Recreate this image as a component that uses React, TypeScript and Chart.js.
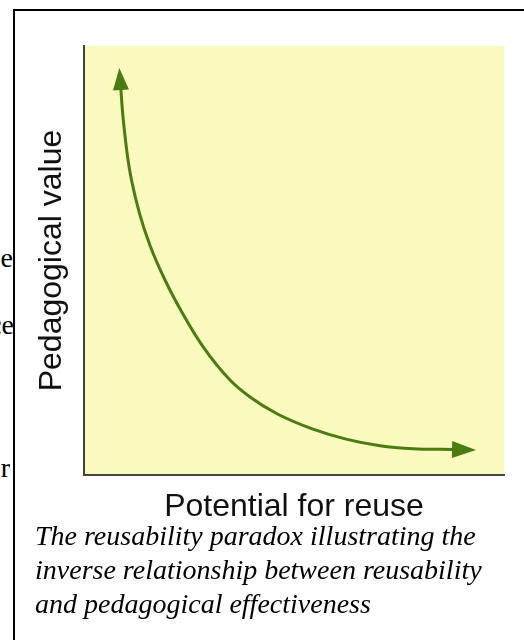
import React, { useEffect, useRef } from "react";
import { Chart, registerables } from "chart.js";

Chart.register(...registerables);

// Curve (x: potential for reuse, y: pedagogical value, both 0..100)
const curveX = [8.76, 9.14, 9.74, 10.48, 11.31, 13.21, 15.83, 19.29, 23.45, 28.33, 34.76, 39.52, 45.95, 54.52, 62.62, 70.48, 78.33, 88.1];
const curveY = [90.21, 85.08, 79.25, 73.43, 68.76, 61.0, 53.22, 45.45, 37.69, 29.91, 22.14, 18.18, 14.27, 10.68, 8.3, 6.83, 6.13, 5.94];

const xTitle = "Potential for reuse";
const yTitle = "Pedagogical value";
const captionLines = [
  "The reusability paradox illustrating the",
  "inverse relationship between reusability",
  "and pedagogical effectiveness",
];

const GREEN = "#4a7c12";
const YELLOW = "#faf9be";
const AXIS = "#444444";
const SANS = '"Liberation Sans", Arial, Helvetica, sans-serif';
const SERIF = '"Liberation Serif", "Times New Roman", Times, serif';

const bgPlugin = {
  id: "plotBg",
  beforeDraw(chart: any) {
    const { ctx, chartArea: a } = chart;
    ctx.save();
    ctx.fillStyle = YELLOW;
    ctx.fillRect(a.left, a.top, a.right - a.left, a.bottom - a.top);
    ctx.restore();
  },
};

function drawHead(ctx: CanvasRenderingContext2D, base: number[], prev: number[], len: number, hw: number) {
  const dx = base[0] - prev[0];
  const dy = base[1] - prev[1];
  const d = Math.hypot(dx, dy) || 1;
  const ux = dx / d;
  const uy = dy / d;
  const bx = base[0] - ux * 2;
  const by = base[1] - uy * 2;
  ctx.beginPath();
  ctx.moveTo(base[0] + ux * len, base[1] + uy * len);
  ctx.lineTo(bx - uy * hw, by + ux * hw);
  ctx.lineTo(bx + uy * hw, by - ux * hw);
  ctx.closePath();
  ctx.fill();
}

const arrowPlugin = {
  id: "arrowHeads",
  afterDatasetsDraw(chart: any) {
    const { ctx } = chart;
    const xs = chart.scales.x;
    const ys = chart.scales.y;
    const p = (i: number) => [xs.getPixelForValue(curveX[i]), ys.getPixelForValue(curveY[i])];
    const n = curveX.length;
    ctx.save();
    ctx.fillStyle = GREEN;
    drawHead(ctx, p(0), p(1), 20, 8);
    drawHead(ctx, p(n - 1), p(n - 2), 22, 8.5);
    ctx.restore();
  },
};

export default function App() {
  const canvasRef = useRef<HTMLCanvasElement | null>(null);

  useEffect(() => {
    const canvas = canvasRef.current;
    if (!canvas) return;
    const points = curveX.map((x, i) => ({ x, y: curveY[i] }));
    const chart = new Chart(canvas, {
      type: "scatter",
      data: {
        datasets: [
          {
            data: points,
            showLine: true,
            borderColor: GREEN,
            backgroundColor: GREEN,
            borderWidth: 3,
            pointRadius: 0,
            cubicInterpolationMode: "monotone",
            fill: false,
          } as any,
        ],
      },
      options: {
        animation: false,
        responsive: false,
        devicePixelRatio: 1,
        events: [],
        layout: { padding: { left: 16, top: 16, right: 6, bottom: 0 } },
        plugins: { legend: { display: false }, tooltip: { enabled: false } },
        scales: {
          x: {
            type: "linear",
            min: 0,
            max: 100,
            ticks: { display: false },
            grid: { display: false, drawTicks: false },
            border: { display: true, color: AXIS, width: 2 },
            title: {
              display: true,
              text: xTitle,
              color: "#111111",
              font: { family: SANS, size: 32, lineHeight: "32px" as any },
              padding: { top: 16, bottom: 0 },
            },
          },
          y: {
            type: "linear",
            min: 0,
            max: 100,
            ticks: { display: false },
            grid: { display: false, drawTicks: false },
            border: { display: true, color: AXIS, width: 2 },
            title: {
              display: true,
              text: yTitle,
              color: "#111111",
              font: { family: SANS, size: 32, lineHeight: "32px" as any },
              padding: { top: 0, bottom: 16 },
            },
          },
        },
      },
      plugins: [bgPlugin, arrowPlugin],
    });
    return () => chart.destroy();
  }, []);

  const fragStyle: React.CSSProperties = {
    position: "absolute",
    left: -60,
    width: 73,
    textAlign: "right",
    overflow: "hidden",
    whiteSpace: "nowrap",
    fontFamily: SERIF,
    fontSize: 28,
    lineHeight: "34px",
    color: "#000",
  };

  return (
    <div
      style={{
        position: "absolute",
        left: 0,
        top: 0,
        width: 524,
        height: 640,
        overflow: "hidden",
        background: "#fff",
      }}
    >
      <div style={{ ...fragStyle, top: 241 }}>e</div>
      <div style={{ ...fragStyle, top: 308, width: 74 }}>ce</div>
      <div style={{ ...fragStyle, top: 451, width: 70 }}>r</div>
      <div
        style={{
          position: "absolute",
          left: 13,
          top: 9,
          width: 700,
          height: 800,
          borderLeft: "2px solid #000",
          borderTop: "2px solid #000",
        }}
      />
      <canvas
        ref={canvasRef}
        width={490}
        height={493}
        style={{ position: "absolute", left: 20, top: 30, width: 490, height: 493 }}
      />
      <div
        style={{
          position: "absolute",
          left: 35,
          top: 519,
          fontFamily: SERIF,
          fontStyle: "italic",
          fontSize: 28,
          lineHeight: "34px",
          color: "#000",
          whiteSpace: "nowrap",
        }}
      >
        {captionLines.map((l, i) => (
          <div key={i}>{l}</div>
        ))}
      </div>
    </div>
  );
}
